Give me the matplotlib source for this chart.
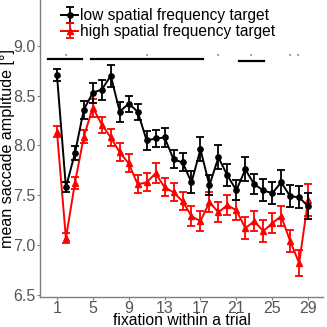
import numpy as np
import matplotlib
matplotlib.use("Agg")
import matplotlib.pyplot as plt

plt.rcParams['font.family'] = ['Liberation Sans', 'DejaVu Sans']

# fixation index within the trial
fixation = np.arange(1, 30)

# low spatial frequency target (black)
low_mean = [8.71, 7.58, 7.92, 8.36, 8.53, 8.56, 8.70, 8.34, 8.42, 8.34,
            8.05, 8.07, 8.08, 7.86, 7.83, 7.63, 7.96, 7.60, 7.88, 7.70,
            7.55, 7.76, 7.61, 7.55, 7.52, 7.63, 7.49, 7.48, 7.39]
low_err = [0.06, 0.05, 0.07, 0.09, 0.10, 0.10, 0.11, 0.10, 0.08, 0.08,
           0.10, 0.09, 0.10, 0.09, 0.09, 0.11, 0.12, 0.10, 0.12, 0.11,
           0.10, 0.12, 0.10, 0.11, 0.11, 0.12, 0.11, 0.11, 0.13]

# high spatial frequency target (red)
high_mean = [8.14, 7.07, 7.62, 8.09, 8.38, 8.21, 8.08, 7.93, 7.82, 7.61,
             7.63, 7.72, 7.58, 7.53, 7.44, 7.29, 7.24, 7.43, 7.33, 7.40,
             7.35, 7.17, 7.24, 7.14, 7.22, 7.29, 7.04, 6.82, 7.45]
high_err = [0.06, 0.05, 0.06, 0.07, 0.09, 0.08, 0.09, 0.09, 0.09, 0.09,
            0.09, 0.10, 0.09, 0.09, 0.09, 0.10, 0.10, 0.10, 0.10, 0.10,
            0.10, 0.11, 0.10, 0.11, 0.10, 0.10, 0.11, 0.13, 0.16]

# significance bars (fixation ranges) and asterisk positions
sig_segments = [(0.05, 3.75, 8.87), (4.75, 17.3, 8.87), (21.35, 24.1, 8.845)]
star_x = [2, 11, 19, 22.65, 27, 27.9]
star_y = 8.905

fig = plt.figure(figsize=(3.27, 3.27), dpi=100)
ax = fig.add_axes([0.122, 0.092, 0.866, 0.908])

ax.errorbar(fixation, low_mean, yerr=low_err, color='black', marker='o',
            markersize=3.8, linewidth=1.4, elinewidth=1.3, capsize=2.6,
            capthick=1.3, label='low spatial frequency target', zorder=3)
ax.errorbar(fixation, high_mean, yerr=high_err, color='#FF0000', marker='^',
            markersize=4.2, linewidth=1.4, elinewidth=1.3, capsize=2.6,
            capthick=1.3, label='high spatial frequency target', zorder=2)

for x0, x1, y in sig_segments:
    ax.plot([x0, x1], [y, y], color='black', linewidth=1.6)
for sx in star_x:
    ax.text(sx, star_y, '*', fontsize=4, ha='center', va='center')

ax.set_xlim(-0.9, 30.67)
ax.set_ylim(6.48, 9.46)
ax.set_xticks(np.arange(1, 30, 4))
ax.set_yticks([6.5, 7.0, 7.5, 8.0, 8.5, 9.0])
ax.set_yticklabels(['6.5', '7.0', '7.5', '8.0', '8.5', '9.0'])

for side in ['top', 'right']:
    ax.spines[side].set_visible(False)
for side in ['left', 'bottom']:
    ax.spines[side].set_color('#7f7f7f')
    ax.spines[side].set_linewidth(1.0)
ax.tick_params(axis='both', colors='#7f7f7f', labelcolor='#555555',
               labelsize=11.5, length=2.2, width=0.8, pad=0.8)

ax.set_xlabel('fixation within a trial', fontsize=11.3, va='baseline')
ax.xaxis.set_label_coords(0.5, -0.093)
ax.set_ylabel('mean saccade amplitude [°]', fontsize=11.6)
ax.yaxis.set_label_coords(-0.088, 0.5)

leg = ax.legend(loc='upper left', bbox_to_anchor=(0.075, 0.972), frameon=False,
                fontsize=11.2, handlelength=1.1, handletextpad=0.1,
                borderaxespad=0, borderpad=0, labelspacing=0.05)

plt.savefig('out.png', dpi=100)
